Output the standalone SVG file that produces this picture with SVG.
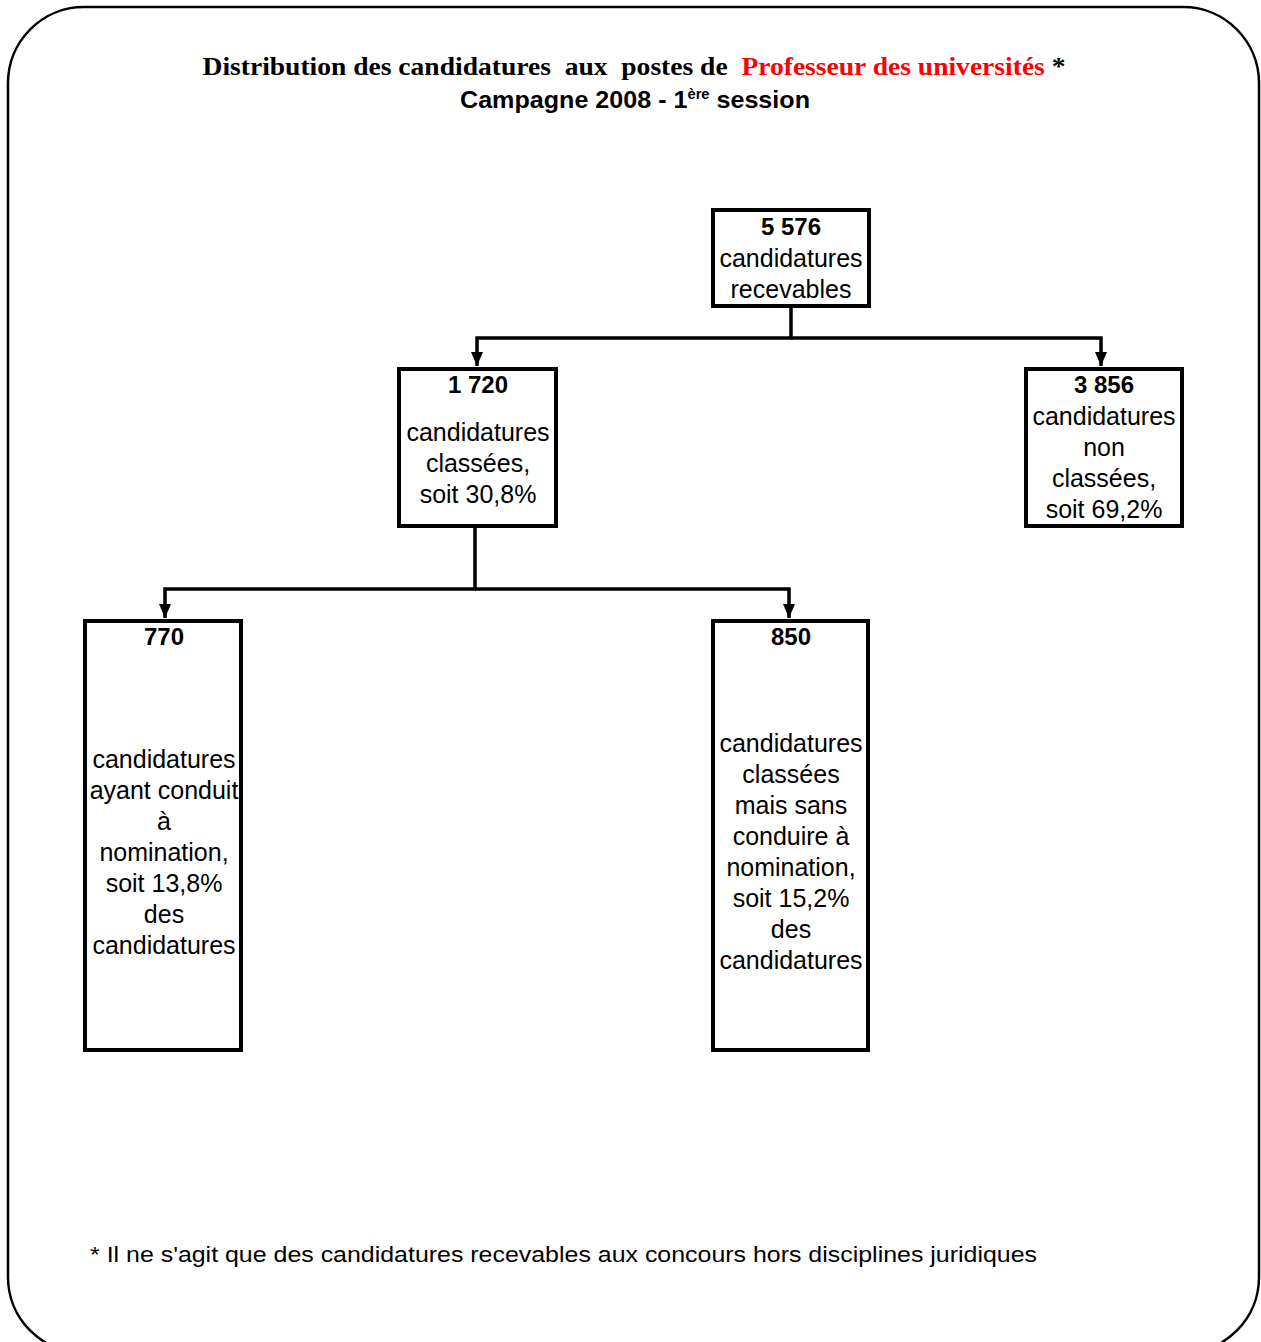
<svg xmlns="http://www.w3.org/2000/svg" width="1261" height="1342" viewBox="0 0 1261 1342">
<style>
.box{fill:#fff;stroke:#000;stroke-width:4}
.t{font-family:"Liberation Sans",Arial,sans-serif;font-size:25px;text-anchor:middle;fill:#000}
.b{font-weight:bold;font-size:24px}
.con{fill:none;stroke:#000;stroke-width:3.5}
</style>
<defs>
<marker id="arr" viewBox="0 0 14 12" refX="14" refY="6" markerWidth="14" markerHeight="12" markerUnits="userSpaceOnUse" orient="auto">
<path d="M0,0 L14,6 L0,12 Z" fill="#000"/>
</marker>
</defs>
<rect width="1261" height="1342" fill="#fff"/>
<rect x="8" y="7" width="1251" height="1346" rx="76" ry="76" fill="none" stroke="#000" stroke-width="2.5"/>
<g id="title">
<text x="634" y="75" font-family="'Liberation Serif','Times New Roman',serif" font-weight="bold" font-size="26" text-anchor="middle" textLength="863" lengthAdjust="spacingAndGlyphs" xml:space="preserve">Distribution des candidatures  aux  postes de  <tspan fill="#ff0000">Professeur des universités</tspan> *</text>
<text x="635" y="108" class="t b" font-size="23" textLength="350" lengthAdjust="spacingAndGlyphs">Campagne 2008 - 1<tspan font-size="14" dy="-9">ère</tspan><tspan dy="9"> session</tspan></text>
</g>
<g id="connectors">
<path class="con" d="M791,307 V338 H477 V366" marker-end="url(#arr)"/>
<path class="con" d="M791,338 H1101 V366" marker-end="url(#arr)"/>
<path class="con" d="M475,527 V589 H165 V618" marker-end="url(#arr)"/>
<path class="con" d="M475,589 H789 V618" marker-end="url(#arr)"/>
</g>
<g id="n-total">
<rect class="box" x="713" y="210" width="156" height="96"/>
<text class="t b" x="791" y="235">5 576</text>
<text class="t" x="791" y="267">candidatures</text>
<text class="t" x="791" y="298">recevables</text>
</g>
<g id="n-classees">
<rect class="box" x="399" y="369" width="157" height="157"/>
<text class="t b" x="478" y="393">1 720</text>
<text class="t" x="478" y="441">candidatures</text>
<text class="t" x="478" y="472">classées,</text>
<text class="t" x="478" y="503">soit 30,8%</text>
</g>
<g id="n-nonclassees">
<rect class="box" x="1026" y="369" width="156" height="157"/>
<text class="t b" x="1104" y="393">3 856</text>
<text class="t" x="1104" y="425">candidatures</text>
<text class="t" x="1104" y="456">non</text>
<text class="t" x="1104" y="487">classées,</text>
<text class="t" x="1104" y="518">soit 69,2%</text>
</g>
<g id="n-770">
<rect class="box" x="85" y="621" width="156" height="429"/>
<text class="t b" x="164" y="645">770</text>
<text class="t" x="164" y="768">candidatures</text>
<text class="t" x="164" y="799">ayant conduit</text>
<text class="t" x="164" y="830">à</text>
<text class="t" x="164" y="861">nomination,</text>
<text class="t" x="164" y="892">soit 13,8%</text>
<text class="t" x="164" y="923">des</text>
<text class="t" x="164" y="954">candidatures</text>
</g>
<g id="n-850">
<rect class="box" x="713" y="621" width="155" height="429"/>
<text class="t b" x="791" y="645">850</text>
<text class="t" x="791" y="752">candidatures</text>
<text class="t" x="791" y="783">classées</text>
<text class="t" x="791" y="814">mais sans</text>
<text class="t" x="791" y="845">conduire à</text>
<text class="t" x="791" y="876">nomination,</text>
<text class="t" x="791" y="907">soit 15,2%</text>
<text class="t" x="791" y="938">des</text>
<text class="t" x="791" y="969">candidatures</text>
</g>
<g id="footnote">
<text x="90" y="1262" font-family="'Liberation Sans',Arial,sans-serif" font-size="22" textLength="947" lengthAdjust="spacingAndGlyphs">* Il ne s'agit que des candidatures recevables aux concours hors disciplines juridiques</text>
</g>
</svg>
